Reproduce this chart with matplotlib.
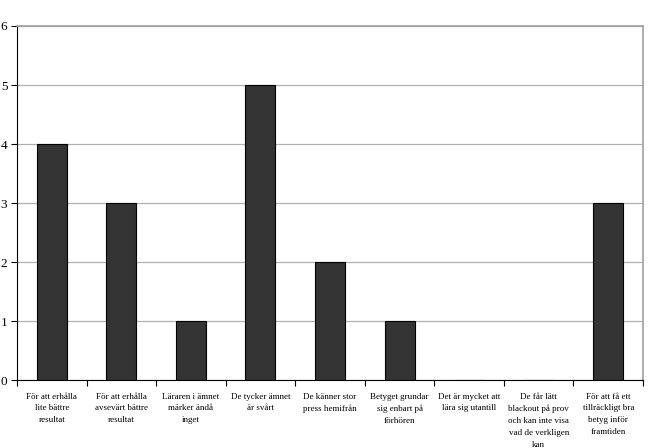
import matplotlib
matplotlib.use("Agg")
import matplotlib.pyplot as plt
import numpy as np

plt.rcParams['font.family'] = ['Liberation Serif', 'DejaVu Serif']

categories = [
    "För att erhålla\nlite bättre\nresultat",
    "För att erhålla\navsevärt bättre\nresultat",
    "Läraren i ämnet\nmärker ändå\ninget",
    "De tycker ämnet\när svårt",
    "De känner stor\npress hemifrån",
    "Betyget grundar\nsig enbart på\nförhören",
    "Det är mycket att\nlära sig utantill",
    "De får lätt\nblackout på prov\noch kan inte visa\nvad de verkligen\nkan",
    "För att få ett\ntillräckligt bra\nbetyg inför\nframtiden",
]
values = [4, 3, 1, 5, 2, 1, 0, 0, 3]

fig = plt.figure(figsize=(6.48, 4.48), dpi=100)
ax = fig.add_axes([17/648, 68/448, 626/648, 354/448])

x = np.arange(len(categories))
ax.bar(x, values, width=0.43, color='#333333', edgecolor='black', linewidth=0.8, zorder=3)

ax.set_xlim(-0.5, len(categories) - 0.5)
ax.set_ylim(0, 6)
ax.set_yticks(range(0, 7))
ax.yaxis.grid(True, color='#b0b0b0', linewidth=0.9, zorder=0)
ax.set_axisbelow(True)

ax.set_xticks(np.arange(-0.5, len(categories), 1))
ax.set_xticklabels([])
ax.set_xticks(x, minor=True)
ax.set_xticklabels(categories, minor=True, fontsize=6.5, linespacing=1.65)
ax.tick_params(axis='x', which='minor', length=0, pad=9)
ax.tick_params(axis='x', which='major', length=4, direction='out', color='black')
ax.tick_params(axis='y', length=4, direction='out', labelsize=9.5, pad=3)

ax.spines['left'].set_color('black')
ax.spines['bottom'].set_color('black')
ax.spines['top'].set_color('#a0a0a0')
ax.spines['right'].set_color('#a0a0a0')
ax.spines['top'].set_linewidth(1.2)
ax.spines['right'].set_linewidth(1.2)

fig.savefig("out.png", dpi=100)
